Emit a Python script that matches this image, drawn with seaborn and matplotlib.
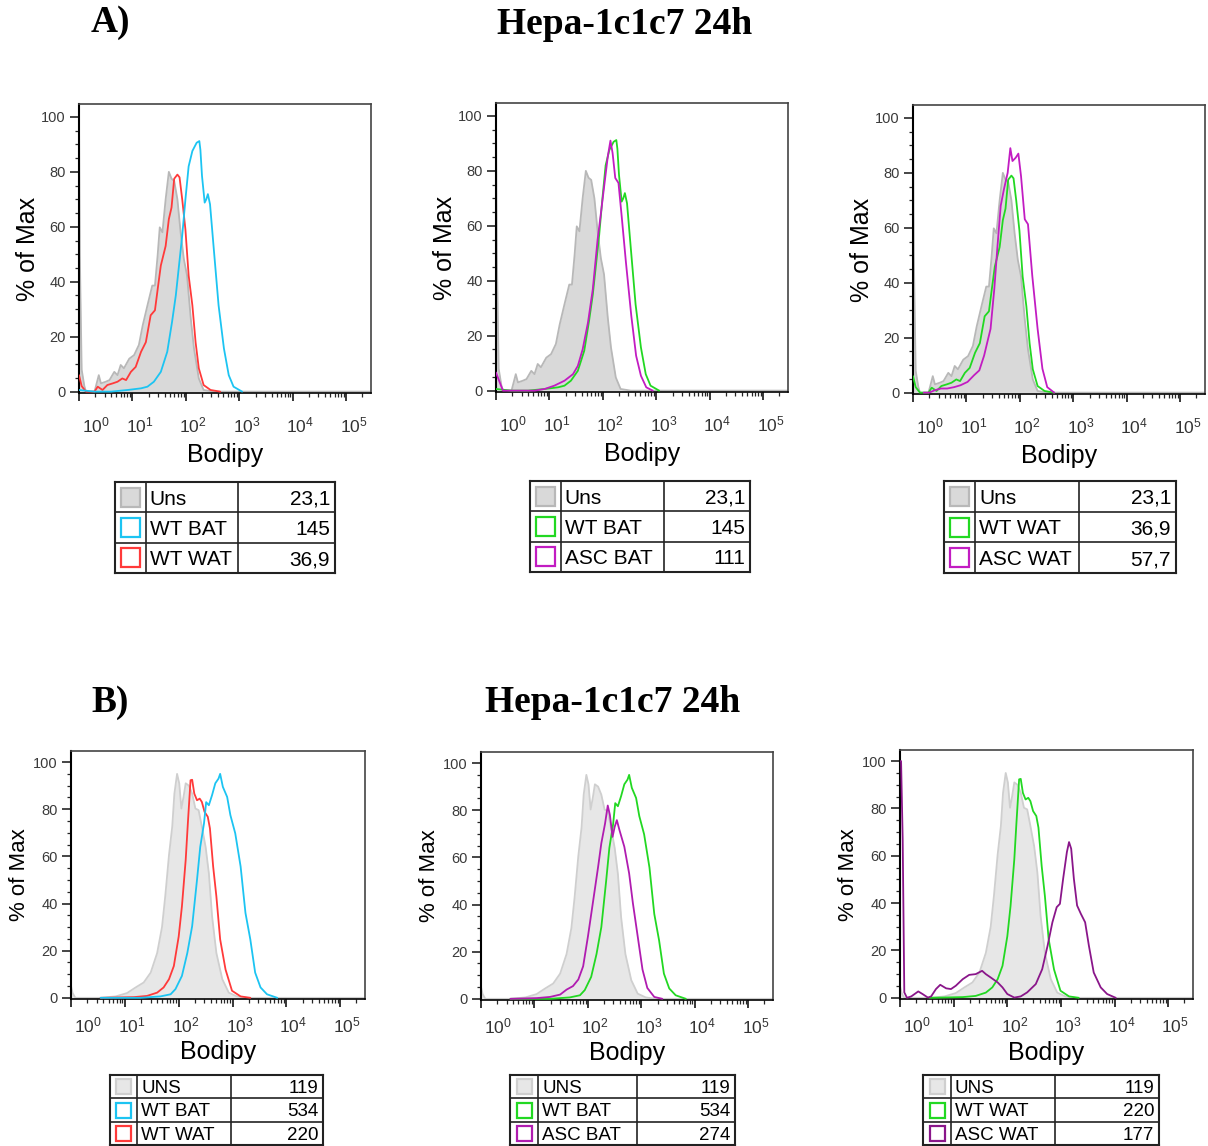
import numpy as np
import pandas as pd
import matplotlib
matplotlib.use("Agg")
import matplotlib.pyplot as plt
import matplotlib.transforms as mtransforms
from matplotlib.patches import Rectangle
from matplotlib.ticker import FixedLocator, MultipleLocator
import seaborn as sns

sns.set_style("ticks")
plt.rcParams['font.family'] = ['Liberation Sans', 'DejaVu Sans']
plt.rcParams['mathtext.fontset'] = 'custom'
plt.rcParams['mathtext.rm'] = 'Liberation Sans'
plt.rcParams['text.color'] = 'black'
plt.rcParams['axes.labelcolor'] = 'black'

# ---- data: histogram traces (x in log10 Bodipy, y in % of max)
# experiment A (Uns 23,1 / WT BAT 145 / WT WAT 36,9 / ASC BAT 111 / ASC WAT 57,7)
a_uns_log = [0.0, 0.015, 0.05, 0.1, 0.13, 0.29, 0.37, 0.41, 0.50, 0.57, 0.66, 0.72, 0.78, 0.84, 0.94,
             1.03, 1.12, 1.19, 1.28, 1.37, 1.42, 1.47, 1.51, 1.56, 1.62, 1.68, 1.73, 1.78, 1.84,
             1.90, 1.96, 2.02, 2.09, 2.15, 2.24, 2.33, 2.52, 5.46]
a_uns_pct = [100, 50, 8, 2, 0, 0, 6, 3, 3.6, 4.2, 7.2, 6, 9.7, 8.5, 12,
             13.3, 17, 24, 31.4, 38.6, 38.6, 49.5, 59.8, 58, 70, 80, 77.5, 76.7, 70,
             58, 48.3, 42.3, 26.6, 15.7, 4.8, 0.6, 0, 0]

a_wtbat_log = [0.0, 0.29, 0.60, 0.91, 1.16, 1.28, 1.40, 1.53, 1.65, 1.74, 1.81, 1.87, 1.93, 1.99,
               2.05, 2.12, 2.20, 2.25, 2.27, 2.30, 2.35, 2.38, 2.41, 2.45, 2.52, 2.61, 2.71, 2.80,
               2.89, 3.05]
a_wtbat_pct = [0.6, 0, 0, 0.6, 1.2, 1.8, 3.6, 7.2, 14.5, 25.4, 35, 45.9, 56.8, 70,
               82, 87.6, 90.6, 91.2, 88, 78.5, 68.8, 70, 71.9, 68.2, 52, 31.4, 15.7, 6,
               1.8, 0]

a_wtwat_log = [0.0, 0.05, 0.13, 0.29, 0.35, 0.44, 0.53, 0.63, 0.72, 0.81, 0.88, 0.97, 1.06, 1.16,
               1.25, 1.34, 1.42, 1.48, 1.53, 1.62, 1.68, 1.73, 1.78, 1.84, 1.88, 1.93, 1.99, 2.05,
               2.12, 2.18, 2.24, 2.33, 2.46, 2.64]
a_wtwat_pct = [6, 2, 0, 0, 1.8, 0.6, 2.4, 3, 3.6, 4.8, 4.2, 7.2, 9, 14.5,
               18, 27.8, 29.6, 38.6, 45.9, 53, 62.8, 67, 77.5, 79, 78, 70, 59, 42.3,
               31.4, 18, 8.5, 2.4, 0.6, 0]

a_ascbat_log = [0.0, 0.07, 0.13, 0.41, 0.72, 0.91, 1.09, 1.28, 1.44, 1.53, 1.62, 1.72, 1.81, 1.90,
                1.97, 2.03, 2.09, 2.14, 2.18, 2.23, 2.29, 2.35, 2.43, 2.53, 2.62, 2.71, 2.81, 2.93]
a_ascbat_pct = [6.6, 3, 0, 0, 0, 0.6, 1.8, 3.6, 6, 9, 15, 24.8, 36.9, 55,
                65.9, 75.6, 85.2, 91, 86.5, 77.4, 75.6, 63.5, 46.6, 27.2, 12.7, 5.4, 1.2, 0]

a_ascwat_log = [0.20, 0.30, 0.40, 0.52, 0.64, 0.77, 0.89, 1.02, 1.14, 1.24, 1.33, 1.39, 1.45, 1.52,
                1.58, 1.64, 1.70, 1.77, 1.82, 1.86, 1.92, 1.97, 2.02, 2.09, 2.15, 2.23, 2.33, 2.42,
                2.51, 2.64]
a_ascwat_pct = [0, 0, 0.8, 1.5, 1.5, 2, 2.7, 3.9, 6.3, 8.1, 13.5, 18.4, 23.2, 37.7,
                53.4, 68, 74, 80, 89, 84.3, 85.5, 87, 78.8, 63.1, 61.3, 42.6, 23.2, 8.7,
                2, 0]

# experiment B (UNS 119 / WT BAT 534 / WT WAT 220 / ASC BAT 274 / ASC WAT 177)
b_uns_log = [0.0, 0.03, 0.08, 0.55, 0.83, 1.04, 1.20, 1.35, 1.48, 1.60, 1.69, 1.75, 1.82, 1.88,
             1.92, 1.97, 2.01, 2.05, 2.09, 2.13, 2.19, 2.25, 2.31, 2.37, 2.43, 2.50, 2.56, 2.62,
             2.70, 2.81, 2.93, 3.08, 3.27, 5.47]
b_uns_pct = [5, 2, 0, 0, 0.6, 2, 4.4, 6.5, 10.7, 19, 30, 43, 60.6, 72.6,
             86.6, 95, 91, 80.3, 85.2, 91, 90, 86.6, 80.3, 79.6, 72.6, 64, 52.9, 34.6,
             19, 7.9, 2.2, 0.6, 0, 0]

b_wtbat_log = [0.55, 1.29, 1.66, 1.85, 1.94, 2.06, 2.16, 2.25, 2.34, 2.40, 2.47, 2.51, 2.56, 2.62,
               2.68, 2.74, 2.77, 2.82, 2.90, 2.96, 3.05, 3.15, 3.24, 3.33, 3.42, 3.52, 3.64, 3.83]
b_wtbat_pct = [0, 0, 0.6, 1.5, 3.7, 9.3, 19, 30.4, 50, 64, 74, 83, 81.7, 86,
               91, 93, 95, 89.5, 85.2, 77.5, 69.8, 55.7, 36, 24.8, 10.7, 4.4, 1.5, 0]

b_wtwat_log = [0.55, 1.17, 1.41, 1.60, 1.72, 1.82, 1.91, 2.00, 2.06, 2.13, 2.17, 2.22, 2.25, 2.29,
               2.34, 2.39, 2.43, 2.48, 2.54, 2.58, 2.64, 2.70, 2.77, 2.87, 2.99, 3.15, 3.33]
b_wtwat_pct = [0, 0.3, 0.8, 2.2, 4.4, 7.9, 13.5, 26, 38.8, 58.5, 74, 92.3, 92.5, 86.6,
               83.8, 84.5, 83.1, 78.9, 76.8, 71.9, 55.7, 43, 24.8, 12, 3, 0.6, 0]

b_ascbat_log = [0.55, 1.04, 1.29, 1.48, 1.60, 1.72, 1.82, 1.91, 2.00, 2.10, 2.19, 2.25, 2.32, 2.37,
                2.41, 2.46, 2.50, 2.54, 2.59, 2.68, 2.77, 2.84, 2.93, 3.02, 3.11, 3.24, 3.39]
b_ascbat_pct = [0, 0.3, 0.8, 1.8, 3.9, 5.4, 8.2, 13.8, 26.5, 42, 56, 66, 74.4, 82,
                78, 68.7, 73, 75.8, 71.5, 64.5, 53.2, 40.6, 26.5, 12.4, 4.6, 0.8, 0]

b_ascwat_log = [0.0, 0.02, 0.05, 0.08, 0.13, 0.21, 0.34, 0.42, 0.52, 0.58, 0.67, 0.75, 0.86, 0.95,
                1.04, 1.17, 1.29, 1.41, 1.53, 1.60, 1.69, 1.82, 1.91, 2.00, 2.13, 2.25, 2.37, 2.53,
                2.65, 2.75, 2.84, 2.92, 2.98, 3.04, 3.11, 3.15, 3.19, 3.24, 3.30, 3.37, 3.45, 3.52,
                3.61, 3.74, 3.86, 4.02]
b_ascwat_pct = [100, 100, 67, 2.3, 0, 0.6, 2.7, 1.6, 0.1, 0.6, 3.7, 5.5, 4, 3.7,
                5.1, 7.9, 9.7, 10, 11.4, 10, 8.6, 6.5, 4.4, 1.6, 0.1, 0.6, 2.3, 5.8,
                12.1, 22, 31.9, 38.3, 39.7, 50.3, 61.6, 65.8, 63, 50.3, 39, 35.5, 31.9, 22,
                10.7, 4.4, 1.6, 0]

# legend tables
a1_names, a1_values = ["Uns", "WT BAT", "WT WAT"], ["23,1", "145", "36,9"]
a2_names, a2_values = ["Uns", "WT BAT", "ASC BAT"], ["23,1", "145", "111"]
a3_names, a3_values = ["Uns", "WT WAT", "ASC WAT"], ["23,1", "36,9", "57,7"]
b1_names, b1_values = ["UNS", "WT BAT", "WT WAT"], ["119", "534", "220"]
b2_names, b2_values = ["UNS", "WT BAT", "ASC BAT"], ["119", "534", "274"]
b3_names, b3_values = ["UNS", "WT WAT", "ASC WAT"], ["119", "220", "177"]

CYAN, RED, GREEN = "#1cc4f2", "#ff3a3a", "#22d822"
MAG_A, MAG_B2, MAG_B3 = "#c21cc2", "#b01cb0", "#8a168a"
GREY_A = ("#d9d9d9", "#b8b8b8")
GREY_B = ("#e7e7e7", "#cfcfcf")

W, H = 1208, 1146
fig = plt.figure(figsize=(W / 100, H / 100), dpi=100)


def trace(logs, pct):
    return pd.DataFrame({"Bodipy": 10 ** np.array(logs), "pct": pct})


def draw_hist(box, uns, grey, curves, big):
    left, top, right, bottom = box
    ax = fig.add_axes([left / W, 1 - bottom / H, (right - left) / W, (bottom - top) / H])
    ax.set_xscale("log")
    u = trace(*uns)
    ax.fill_between(u["Bodipy"], 0, u["pct"], color=grey[0], lw=0, zorder=1)
    sns.lineplot(data=u, x="Bodipy", y="pct", ax=ax, color=grey[1], lw=1.3,
                 sort=False, estimator=None, zorder=2)
    for (logs, pct), col in curves:
        sns.lineplot(data=trace(logs, pct), x="Bodipy", y="pct", ax=ax, color=col,
                     lw=1.3, sort=False, estimator=None, zorder=3)
    ax.set_xlim(1, 10 ** 5.46)
    ax.set_ylim(-0.5, 104.7)

    ax.xaxis.set_major_locator(FixedLocator([10.0 ** k for k in range(6)]))
    ax.xaxis.set_minor_locator(FixedLocator([m * 10.0 ** k for k in range(6) for m in range(2, 10)]))
    ax.set_xticklabels([r"$\mathregular{10^{%d}}$" % k for k in range(6)])
    ax.set_yticks([0, 20, 40, 60, 80, 100])
    ax.yaxis.set_minor_locator(MultipleLocator(5))
    ax.tick_params(axis="x", which="major", length=6, width=1.3, pad=10 if big else 6,
                   labelsize=12.5, labelcolor="#333333", bottom=True)
    ax.tick_params(axis="x", which="minor", length=3, width=0.9, bottom=True)
    ax.tick_params(axis="y", which="major", length=6.5, width=1.2, pad=3,
                   labelsize=10.5, labelcolor="#3a3a3a", left=True)
    ax.tick_params(axis="y", which="minor", length=3, width=0.9, left=True)
    for i, lbl in enumerate(ax.get_xticklabels()):
        dx = 17 if i == 0 else 7
        lbl.set_transform(lbl.get_transform() +
                          mtransforms.ScaledTranslation(dx / 100, 0, fig.dpi_scale_trans))

    for s in ax.spines.values():
        s.set_color("#444444")
        s.set_linewidth(1.2)
    ax.spines["left"].set_color("black")
    ax.spines["left"].set_linewidth(1.5)
    ax.spines["bottom"].set_color("black")

    ax.set_ylabel("% of Max", fontsize=18 if big else 16)
    ax.yaxis.label.set_va("center")
    ax.yaxis.set_label_coords(-0.175, 0.5)
    ax.set_xlabel("Bodipy", fontsize=18)
    ax.xaxis.label.set_va("center")
    ax.xaxis.set_label_coords(0.5, -0.215)
    return ax


def draw_table(box, cols, names, values, colors, grey, fs, sw):
    left, top, right, bottom = box
    w, h = right - left, bottom - top
    tax = fig.add_axes([left / W, 1 - bottom / H, w / W, h / H])
    tax.set_xlim(0, w)
    tax.set_ylim(h, 0)
    tax.set_xticks([])
    tax.set_yticks([])
    for s in tax.spines.values():
        s.set_color("#222222")
        s.set_linewidth(1.5)
    for c in cols:
        tax.axvline(c, color="#222222", lw=1.2)
    rh = h / 3
    for r in (1, 2):
        tax.axhline(r * rh, color="#222222", lw=1.2)
    for i, (name, val, col) in enumerate(zip(names, values, colors)):
        cy = (i + 0.5) * rh
        face = grey[0] if i == 0 else "white"
        edge = grey[1] if i == 0 else col
        tax.add_patch(Rectangle((cols[0] / 2 - sw / 2, cy - sw / 2), sw, sw,
                                facecolor=face, edgecolor=edge, lw=1.6))
        tax.text(cols[0] + 4, cy, name, ha="left", va="center_baseline", fontsize=fs)
        tax.text(w - 5, cy, val, ha="right", va="center_baseline", fontsize=fs)


A_UNS = (a_uns_log, a_uns_pct)
B_UNS = (b_uns_log, b_uns_pct)

# experiment A
draw_hist((79, 104, 371, 393), A_UNS, GREY_A,
          [((a_wtwat_log, a_wtwat_pct), RED), ((a_wtbat_log, a_wtbat_pct), CYAN)], True)
draw_hist((496, 103, 788, 392), A_UNS, GREY_A,
          [((a_wtbat_log, a_wtbat_pct), GREEN), ((a_ascbat_log, a_ascbat_pct), MAG_A)], True)
draw_hist((913, 105, 1205, 394), A_UNS, GREY_A,
          [((a_wtwat_log, a_wtwat_pct), GREEN), ((a_ascwat_log, a_ascwat_pct), MAG_A)], True)

draw_table((115, 482, 335, 573), (30.7, 123.3), a1_names, a1_values, [None, CYAN, RED], GREY_A, 15, 19)
draw_table((530, 481, 750, 572), (30.7, 134.3), a2_names, a2_values, [None, GREEN, MAG_A], GREY_A, 15, 19)
draw_table((944, 481, 1176, 573), (31, 135), a3_names, a3_values, [None, GREEN, MAG_A], GREY_A, 15, 19)

# experiment B
draw_hist((71, 751, 365, 999), B_UNS, GREY_B,
          [((b_wtwat_log, b_wtwat_pct), RED), ((b_wtbat_log, b_wtbat_pct), CYAN)], False)
draw_hist((481, 752, 773, 1000), B_UNS, GREY_B,
          [((b_wtbat_log, b_wtbat_pct), GREEN), ((b_ascbat_log, b_ascbat_pct), MAG_B2)], False)
draw_hist((900, 750, 1193, 999), B_UNS, GREY_B,
          [((b_wtwat_log, b_wtwat_pct), GREEN), ((b_ascwat_log, b_ascwat_pct), MAG_B3)], False)

draw_table((110, 1075, 323, 1145), (27.3, 120.7), b1_names, b1_values, [None, CYAN, RED], GREY_B, 13.5, 15)
draw_table((510, 1075, 735, 1145), (28.3, 126.7), b2_names, b2_values, [None, GREEN, MAG_B2], GREY_B, 13.5, 15)
draw_table((923, 1075, 1159, 1145), (28, 132.3), b3_names, b3_values, [None, GREEN, MAG_B3], GREY_B, 13.5, 15)

# headings
serif = dict(family=["Liberation Serif", "DejaVu Serif"], weight="bold", fontsize=27,
             ha="center", va="center", color="black")
fig.text(110 / W, 1 - 22 / H, "A)", **serif)
fig.text(625 / W, 1 - 25 / H, "Hepa-1c1c7 24h", **serif)
fig.text(110 / W, 1 - 702 / H, "B)", **serif)
fig.text(613 / W, 1 - 703 / H, "Hepa-1c1c7 24h", **serif)

fig.savefig("out.png", dpi=100)
